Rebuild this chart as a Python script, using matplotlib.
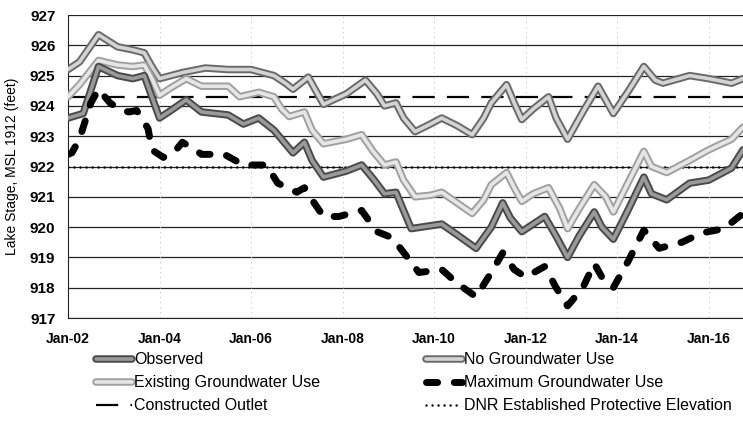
import matplotlib
matplotlib.use("Agg")
import matplotlib.pyplot as plt
from matplotlib.lines import Line2D
from matplotlib.legend_handler import HandlerTuple

plt.rcParams['font.family'] = ['Liberation Sans Narrow', 'Liberation Sans', 'DejaVu Sans']

# months since Jan-2002, lake stage (ft)
obs_m = [0, 4, 8, 13, 17, 20, 22, 24, 27, 31, 35, 42, 46, 50, 54, 59, 62, 64, 67, 73, 77, 80, 83, 86,
         88, 90, 98, 102, 107, 111, 114, 116, 119, 122, 125, 128, 131, 134, 138, 140, 143, 147, 151,
         153, 157, 163, 168, 174, 177]
obs_v = [923.6, 923.75, 925.3, 925.0, 924.9, 925.0, 924.3, 923.6, 923.85, 924.2, 923.8, 923.7, 923.4,
         923.6, 923.2, 922.45, 922.8, 922.2, 921.65, 921.85, 922.05, 921.6, 921.1, 921.15, 920.55,
         919.95, 920.1, 919.75, 919.3, 920.0, 920.8, 920.3, 919.85, 920.1, 920.35, 919.7, 919.0, 919.7,
         920.5, 920.0, 919.6, 920.6, 921.65, 921.1, 920.9, 921.45, 921.55, 921.95, 922.55]

nogw_m = [0, 3, 8, 13, 17, 20, 22, 24, 27, 30, 36, 42, 48, 54, 57, 59, 63, 65, 67, 73, 78, 81, 83, 86,
          88, 91, 95, 98, 102, 106, 109, 111, 115, 117, 119, 122, 126, 128, 131, 135, 139, 141, 143,
          147, 151, 154, 156, 163, 168, 174, 177]
nogw_v = [925.2, 925.45, 926.35, 925.95, 925.85, 925.75, 925.3, 924.9, 925.0, 925.1, 925.25, 925.2,
          925.2, 925.0, 924.75, 924.55, 924.95, 924.5, 924.05, 924.4, 924.85, 924.4, 924.0, 924.1,
          923.6, 923.15, 923.4, 923.6, 923.35, 923.05, 923.6, 924.1, 924.7, 924.1, 923.55, 923.9,
          924.3, 923.6, 922.9, 923.8, 924.65, 924.2, 923.75, 924.5, 925.3, 924.85, 924.75, 925.0,
          924.9, 924.75, 924.9]

exist_m = [0, 3, 8, 13, 17, 20, 22, 24, 27, 31, 35, 42, 45, 50, 54, 56, 58, 62, 64, 67, 73, 77, 80,
           83, 86, 88, 91, 95, 98, 102, 106, 109, 111, 115, 117, 119, 122, 126, 129, 131, 134, 138,
           141, 143, 147, 151, 153, 157, 163, 168, 174, 177]
exist_v = [924.3, 924.7, 925.5, 925.35, 925.3, 925.35, 924.9, 924.35, 924.6, 924.9, 924.65, 924.65,
           924.3, 924.45, 924.3, 923.9, 923.65, 923.8, 923.2, 922.75, 922.9, 923.05, 922.5, 922.05,
           922.15, 921.55, 921.0, 921.05, 921.15, 920.8, 920.45, 920.9, 921.4, 921.8, 921.3, 920.85,
           921.1, 921.3, 920.6, 919.95, 920.6, 921.4, 921.0, 920.5, 921.5, 922.5, 922.0, 921.8,
           922.2, 922.55, 922.9, 923.3]

maxgw_m = [0, 1, 3, 6, 8, 11, 14, 16, 18, 21, 22, 25, 28, 30, 34, 35, 41, 46, 52, 55, 60, 62, 64, 67,
           71, 77, 81, 85, 89, 92, 98, 102, 107, 111, 114, 117, 120, 125, 128, 131, 135, 138, 140,
           143, 147, 151, 155, 161, 166, 172, 177]
maxgw_v = [922.4, 922.45, 922.9, 924.1, 924.55, 924.1, 923.85, 923.8, 923.85, 923.25, 922.55, 922.3,
           922.5, 922.8, 922.5, 922.4, 922.4, 922.05, 922.05, 921.45, 921.15, 921.3, 920.9, 920.35,
           920.35, 920.55, 919.85, 919.65, 919.0, 918.5, 918.6, 918.15, 917.7, 918.5, 919.15, 918.6,
           918.35, 918.7, 918.0, 917.4, 918.0, 918.8, 918.35, 918.0, 918.9, 919.9, 919.3, 919.5,
           919.8, 919.95, 920.45]

outlet_level = 924.3
dnr_level = 922.0
span_m = [0, 177]

tick_m = [0, 24, 48, 72, 96, 120, 144, 168]
tick_labels = ['Jan-02', 'Jan-04', 'Jan-06', 'Jan-08', 'Jan-10', 'Jan-12', 'Jan-14', 'Jan-16']
y_ticks = list(range(917, 928))

fig = plt.figure(figsize=(7.43, 4.40), dpi=100)
ax = fig.add_axes([68 / 743, 122 / 440, 675 / 743, 303 / 440])

for y in y_ticks:
    ax.axhline(y, color='#222222', lw=0.9, zorder=1)
for m in tick_m[1:]:
    ax.axvline(m, color='#cccccc', lw=0.6, ls=(0, (2, 4)), zorder=1)

ax.plot(span_m, [outlet_level] * 2, color='black', lw=1.6, ls=(0, (10, 5.5)), zorder=2)
ax.plot(span_m, [dnr_level] * 2, color='black', lw=1.8, ls=(0, (0.01, 2.4)),
        dash_capstyle='round', zorder=2)


def double_line(x, y, outer, inner):
    a, = ax.plot(x, y, color=outer, lw=5.4, solid_joinstyle='round', solid_capstyle='round', zorder=3)
    b, = ax.plot(x, y, color=inner, lw=2.6, solid_joinstyle='round', solid_capstyle='round', zorder=3)
    return (a, b)


h_nogw = double_line(nogw_m, nogw_v, '#6a6a6a', '#d4d4d4')
h_exist = double_line(exist_m, exist_v, '#a0a0a0', '#e6e6e6')
h_obs = double_line(obs_m, obs_v, '#4a4a4a', '#9a9a9a')
h_max, = ax.plot(maxgw_m, maxgw_v, color='black', lw=5, ls=(0, (1.6, 2.4)),
                 dash_capstyle='round', zorder=4)
h_out = Line2D([], [], color='black', lw=1.6, ls=(0, (10, 5.5)))
h_dnr = Line2D([], [], color='black', lw=1.8, ls=(0, (0.01, 2.4)), dash_capstyle='round')

ax.set_xlim(0, 177)
ax.set_ylim(917, 927)
ax.set_xticks(tick_m)
ax.set_xticklabels(tick_labels, fontsize=10, fontweight='bold')
ax.set_yticks(y_ticks)
ax.set_yticklabels([str(v) for v in y_ticks], fontsize=11, fontweight='bold')
ax.tick_params(axis='both', length=0)
ax.tick_params(axis='x', pad=10)
ax.tick_params(axis='y', pad=9)
for s in ['top', 'right']:
    ax.spines[s].set_visible(False)
for s in ['left', 'bottom']:
    ax.spines[s].set_color('#222222')
ax.set_ylabel('Lake Stage, MSL 1912 (feet)', fontsize=10, labelpad=8)

leg_kw = dict(frameon=False, fontsize=11.5, handlelength=2.2, handletextpad=0.15,
              labelspacing=0.5, loc='upper left',
              handler_map={tuple: HandlerTuple(ndivide=1)})
fig.legend([h_obs, h_exist, h_out],
           ['Observed', 'Existing Groundwater Use', 'Constructed Outlet'],
           bbox_to_anchor=(82 / 743, 1 - 338 / 440), **leg_kw)
fig.legend([h_nogw, h_max, h_dnr],
           ['No Groundwater Use', 'Maximum Groundwater Use', 'DNR Established Protective Elevation'],
           bbox_to_anchor=(412 / 743, 1 - 338 / 440), **leg_kw)

fig.savefig('out.png', dpi=100)
